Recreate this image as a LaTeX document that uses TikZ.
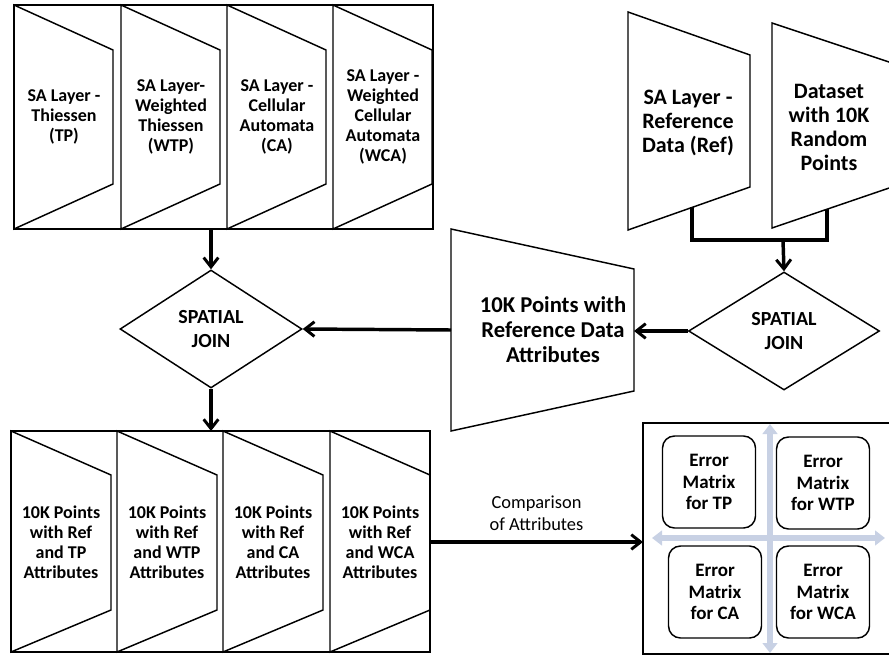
\documentclass[tikz,border=0pt]{standalone}
\usepackage{fontspec}
\setmainfont{Carlito}
\usetikzlibrary{arrows.meta}
\usetikzlibrary{positioning}
\usetikzlibrary{shapes.geometric}

\definecolor{crossblue}{HTML}{C8D1E4}

\tikzset{
    flowarrow/.style={line width=2.6pt, -{Straight Barb[length=7pt, width=11pt, line width=2.2pt]}},
    layer/.style={line width=1.1pt, line join=miter},
    outerbox/.style={line width=2pt},
    celltxt/.style={align=center, font=\bfseries\fontsize{13.5}{15}\selectfont},
    bigtxt/.style={align=center, font=\bfseries\fontsize{16.5}{18}\selectfont},
    joinbox/.style={draw, diamond, line width=1.1pt, inner sep=0pt, align=center,
        font=\bfseries\fontsize{15}{18}\selectfont},
    errmat/.style={draw, rounded corners=9pt, line width=1.1pt, align=center,
        minimum width=69.75pt, minimum height=69pt,
        font=\bfseries\fontsize{14.25}{16.3}\selectfont},
    crossarrow/.style={line width=3.8pt, crossblue, {Triangle[length=7.5pt, width=11pt]}-{Triangle[length=7.5pt, width=11pt]}}
}

\begin{document}
\begin{tikzpicture}[x=0.75pt, y=-0.75pt]
    \useasboundingbox (0,0) rectangle (889,656);

    % surface layers
    \foreach \x/\name/\txt in {14/tp/{SA Layer -\\Thiessen\\(TP)},
            121/wtp/{SA Layer-\\Weighted\\Thiessen\\(WTP)},
            227/ca/{SA Layer -\\Cellular\\Automata\\(CA)},
            333/wca/{SA Layer -\\Weighted\\Cellular\\Automata\\(WCA)}}{
        \draw[layer](\x, 5)--(\x+99, 50)--(\x+99, 184)--(\x, 229)--cycle;
        \node[celltxt](\name) at (\x+50, 117){\txt};
    }
    \draw[outerbox](14, 5) rectangle (433, 229);
    \coordinate (layersout) at (211, 229);

    % reference data and random points
    \draw[layer](628, 12)--(750, 55)--(750, 187)--(628, 230)--cycle;
    \node[bigtxt](refdata) at (688, 123){SA Layer -\\Reference\\Data (Ref)};
    \draw[layer](772, 23)--(895, 64)--(895, 186)--(772, 228)--cycle;
    \node[bigtxt](randpts) at (829, 127){Dataset\\with 10K\\Random\\Points};

    \coordinate (refout) at (692, 207);
    \coordinate (randout) at (827, 209);
    \coordinate (merge) at (783, 240);
    \draw[line width=2.6pt](refout) |- (merge) -| (randout);

    % spatial joins
    \node[joinbox, minimum width=143.25pt, minimum height=88.5pt](join2) at (784, 331){SPATIAL\\JOIN};
    \node[joinbox, minimum width=136.5pt, minimum height=88.5pt](join1) at (211, 329){SPATIAL\\JOIN};
    \draw[flowarrow](merge)--(join2.north);

    % points with reference attributes
    \draw[layer](451, 229)--(634, 269)--(634, 391)--(451, 431)--cycle;
    \node[align=center, font=\bfseries\fontsize{17}{18.75}\selectfont](refpts) at (553, 330){10K Points with\\Reference Data\\Attributes};
    \coordinate (refptsin) at (634, 331);
    \coordinate (refptsout) at (451, 330);
    \draw[flowarrow](join2.west)--(refptsin);
    \draw[flowarrow](refptsout)--(join1.east);
    \draw[flowarrow](layersout)--(join1.north);

    % joined points
    \foreach \x/\name/\txt in {11/ptp/{10K Points\\with Ref\\and TP\\Attributes},
            117/pwtp/{10K Points\\with Ref\\and WTP\\Attributes},
            223/pca/{10K Points\\with Ref\\and CA\\Attributes},
            330/pwca/{10K Points\\with Ref\\and WCA\\Attributes}}{
        \draw[layer](\x, 431)--(\x+100, 475)--(\x+100, 610)--(\x, 652)--cycle;
        \node[celltxt](\name) at (\x+50, 542){\txt};
    }
    \draw[outerbox](11, 431) rectangle (430, 652);
    \coordinate (pointsin) at (211, 431);
    \coordinate (pointsout) at (430, 542);
    \draw[flowarrow](join1.south)--(pointsin);

    % error matrices
    \draw[outerbox](643, 423) rectangle (892, 654);
    \coordinate (errin) at (643, 542);
    \coordinate (crosstop) at (770, 424);
    \coordinate (crossbot) at (770, 653);
    \coordinate (crossleft) at (652, 538);
    \coordinate (crossright) at (885, 538);
    \draw[crossarrow](crosstop)--(crossbot);
    \draw[crossarrow](crossleft)--(crossright);
    \node[errmat](emtp) at (709, 482){Error\\Matrix\\for TP};
    \node[errmat](emwtp) at (823, 483){Error\\Matrix\\for WTP};
    \node[errmat](emca) at (715, 592){Error\\Matrix\\for CA};
    \node[errmat](emwca) at (823, 592){Error\\Matrix\\for WCA};

    \draw[flowarrow](pointsout)--node[above=4pt, align=center, font=\fontsize{13.8}{16.3}\selectfont](cmplbl){Comparison\\of Attributes}(errin);
\end{tikzpicture}
\end{document}
